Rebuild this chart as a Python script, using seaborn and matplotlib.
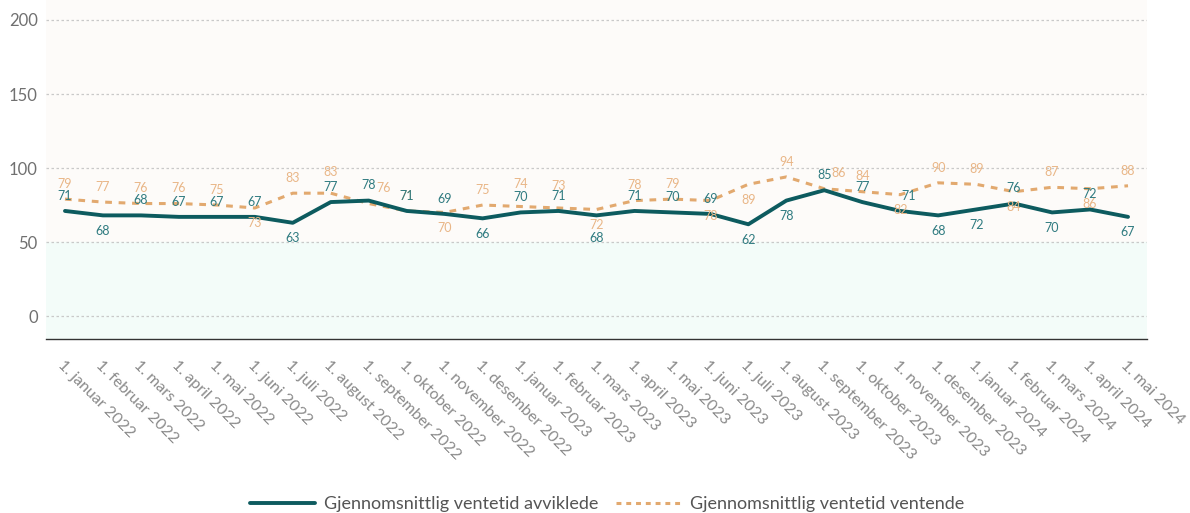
import matplotlib
matplotlib.use("Agg")
import matplotlib.pyplot as plt
import matplotlib.lines as mlines
import numpy as np
import pandas as pd
import seaborn as sns

# Monthly data points
months = [
    "1. januar 2022", "1. februar 2022", "1. mars 2022", "1. april 2022", "1. mai 2022",
    "1. juni 2022", "1. juli 2022", "1. august 2022", "1. september 2022", "1. oktober 2022",
    "1. november 2022", "1. desember 2022", "1. januar 2023", "1. februar 2023", "1. mars 2023",
    "1. april 2023", "1. mai 2023", "1. juni 2023", "1. juli 2023", "1. august 2023",
    "1. september 2023", "1. oktober 2023", "1. november 2023", "1. desember 2023",
    "1. januar 2024", "1. februar 2024", "1. mars 2024", "1. april 2024", "1. mai 2024",
]
avviklede = [71, 68, 68, 67, 67, 67, 63, 77, 78, 71, 69, 66, 70, 71, 68,
             71, 70, 69, 62, 78, 85, 77, 71, 68, 72, 76, 70, 72, 67]
ventende = [79, 77, 76, 76, 75, 73, 83, 83, 76, 71, 70, 75, 74, 73, 72,
            78, 79, 78, 89, 94, 86, 84, 82, 90, 89, 84, 87, 86, 88]

# Label placement: +1 above the point, -1 below
avviklede_pos = [1, -1, 1, 1, 1, 1, -1, 1, 1, 1, 1, -1, 1, 1, -1,
                 1, 1, 1, -1, -1, 1, 1, 1, -1, -1, 1, -1, 1, -1]
ventende_pos = [1, 1, 1, 1, 1, -1, 1, 1, 1, 1, -1, 1, 1, 1, -1,
                1, 1, -1, -1, 1, 1, 1, -1, 1, 1, -1, 1, -1, 1]
# Nudges (points) for crowded labels: index -> (dx, dy)
ventende_nudge = {7: (0, 4), 8: (11, 0), 20: (10, 0), 12: (0, 5), 13: (0, 5)}
avviklede_nudge = {22: (6, 0), 14: (0, -5)}

series_names = ["Gjennomsnittlig ventetid avviklede", "Gjennomsnittlig ventetid ventende"]
yticks = [0, 50, 100, 150, 200]

TEAL = "#0d5b5f"
TEAL_TXT = "#2f7b80"
ORANGE = "#e2a96f"
ORANGE_TXT = "#e9b687"
GRAY = "#707070"

sns.set_theme(style="white")
plt.rcParams["font.family"] = ["Lato", "DejaVu Sans"]

fig = plt.figure(figsize=(11.9, 5.13), dpi=100)
ax = fig.add_axes([46 / 1190, 1 - 339 / 513, (1147 - 46) / 1190, 339 / 513])

x = np.arange(len(months))
df = pd.DataFrame({"x": x, "avviklede": avviklede, "ventende": ventende})

ymin, ymax = -15.5, 213.5
ax.set_xlim(-0.5, len(months) - 0.5)
ax.set_ylim(ymin, ymax)

# Background bands
ax.axhspan(50, ymax, color="#fdfbf9", zorder=0)
ax.axhspan(ymin, 50, color="#f3fcf9", zorder=0)

for yv in yticks:
    ax.axhline(yv, color="#c9c9c9", lw=0.9, ls=(0, (2, 2)), zorder=1)

sns.lineplot(data=df, x="x", y="ventende", ax=ax, color=ORANGE, lw=2.2, zorder=3)
ax.lines[-1].set_linestyle((0, (2.2, 2.2)))
sns.lineplot(data=df, x="x", y="avviklede", ax=ax, color=TEAL, lw=2.8, zorder=4)

# Value labels
for xi, v, p in zip(x, ventende, ventende_pos):
    dx, dy = ventende_nudge.get(xi, (0, 0))
    ax.annotate(str(v), (xi, v), xytext=(dx, 11 * p + dy),
                textcoords="offset points", ha="center", va="center",
                fontsize=9, color=ORANGE_TXT, zorder=5)
for xi, v, p in zip(x, avviklede, avviklede_pos):
    dx, dy = avviklede_nudge.get(xi, (0, 0))
    ax.annotate(str(v), (xi, v), xytext=(dx, 11 * p + dy),
                textcoords="offset points", ha="center", va="center",
                fontsize=9, color=TEAL_TXT, zorder=6)

ax.set_yticks(yticks)
ax.set_yticklabels([str(t) for t in yticks], fontsize=12, color=GRAY)
ax.set_xticks(x)
ax.set_xticklabels(months, rotation=-45, ha="left", va="top", rotation_mode="anchor",
                   fontsize=11.5, color="#8a8a8a")
ax.tick_params(axis="y", length=0, pad=6)
ax.tick_params(axis="x", length=6, width=1, color="#333333", direction="out", pad=8)
ax.set_xlabel("")
ax.set_ylabel("")

for side in ["left", "right", "top"]:
    ax.spines[side].set_visible(False)
ax.spines["bottom"].set_color("#333333")
ax.spines["bottom"].set_linewidth(1)

handles = [
    mlines.Line2D([], [], color=TEAL, lw=2.8),
    mlines.Line2D([], [], color=ORANGE, lw=2.2, ls=(0, (1.6, 1.6))),
]
fig.legend(handles, series_names, loc="lower center", bbox_to_anchor=(0.51, -0.03),
           ncol=2, frameon=False, fontsize=13, handlelength=3.6, columnspacing=1.0,
           handletextpad=0.5, labelcolor="#555555")

fig.savefig("out.png", dpi=100)
